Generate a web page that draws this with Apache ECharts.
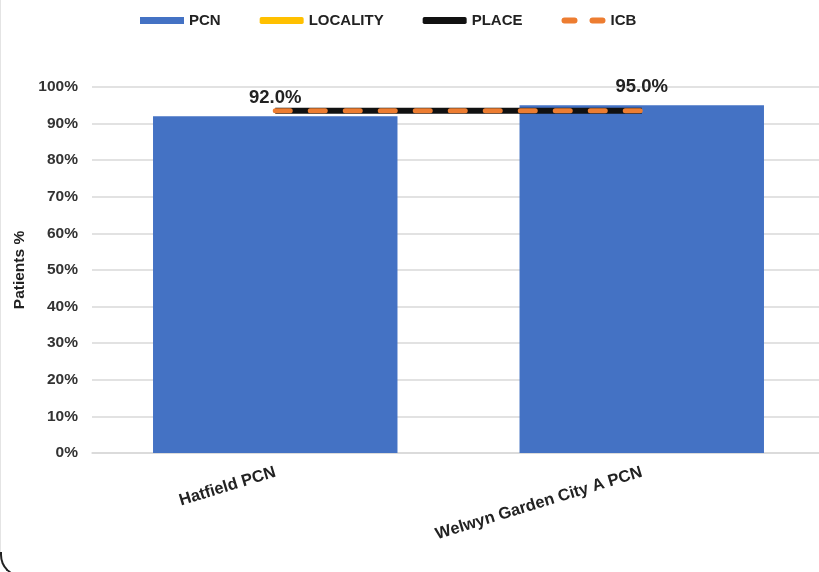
<!DOCTYPE html>
<html>
<head>
<meta charset="utf-8">
<script src="https://cdn.jsdelivr.net/npm/echarts@6/dist/echarts.min.js"></script>
<style>
  html, body { margin: 0; padding: 0; background: #fff; overflow: hidden; }
  #chart { width: 819px; height: 572px; }
  .edge { position: absolute; left: 0; top: 0; width: 1px; height: 553px; background: #e4e4e4; }
  .corner { position: absolute; left: 0; top: 552px; width: 40px; height: 25px;
            border-left: 2px solid #222; border-bottom: 2px solid #222; border-bottom-left-radius: 22px; box-sizing: border-box; }
</style>
</head>
<body>
<div id="chart"></div>
<div class="edge"></div>
<div class="corner"></div>
<script>
// 分类
const categories = ["Hatfield PCN", "Welwyn Garden City A PCN"];
// 各系列数值 (%)
const pcnValues = [92.0, 95.0];
const localityValues = [93.5, 93.5];
const placeValues = [93.5, 93.5];
const icbValues = [93.5, 93.5];
const yTicks = [0, 10, 20, 30, 40, 50, 60, 70, 80, 90, 100];

const chart = echarts.init(document.getElementById("chart"));
const font = "Liberation Sans, Arial, sans-serif";

const option = {
  animation: false,
  textStyle: { fontFamily: font },
  legend: {
    top: 8,
    left: 135,
    itemGap: 39,
    itemWidth: 44,
    itemHeight: 7,
    textStyle: { color: "#222", fontSize: 15, fontWeight: "bold", fontFamily: font },
    data: [
      { name: "PCN", icon: "rect" },
      { name: "LOCALITY", icon: "roundRect" },
      { name: "PLACE", icon: "roundRect" },
      { name: "ICB", icon: "path://M3,0H13A3,3 0 0 1 13,6H3A3,3 0 0 1 3,0Z M31,0H41A3,3 0 0 1 41,6H31A3,3 0 0 1 31,0Z" }
    ]
  },
  grid: { left: 92, width: 733, top: 87, bottom: 119, outerBoundsMode: "none" },
  xAxis: {
    type: "category",
    data: categories,
    axisLine: { show: true, lineStyle: { color: "#d9d9d9", width: 1.5 } },
    axisTick: { show: false },
    axisLabel: {
      rotate: 17,
      margin: 19,
      color: "#222",
      fontSize: 16.5,
      fontWeight: "bold",
      fontFamily: font
    }
  },
  yAxis: {
    type: "value",
    min: yTicks[0],
    max: yTicks[yTicks.length - 1],
    interval: 10,
    name: "Patients %",
    nameLocation: "middle",
    nameGap: 64,
    nameRotate: 90,
    nameTextStyle: { color: "#222", fontSize: 15.5, fontWeight: "bold", fontFamily: font },
    axisLine: { show: false },
    axisTick: { show: false },
    axisLabel: {
      formatter: "{value}%",
      margin: 14,
      color: "#333",
      fontSize: 15.5,
      fontWeight: "bold",
      fontFamily: font
    },
    splitLine: { lineStyle: { color: "#d9d9d9", width: 1.5 } }
  },
  series: [
    {
      name: "PCN",
      type: "bar",
      barWidth: "66.7%",
      itemStyle: { color: "#4472C4" },
      label: {
        show: true,
        position: "top",
        distance: 9,
        formatter: p => p.value.toFixed(1) + "%",
        color: "#222",
        fontSize: 18.5,
        fontWeight: "bold",
        fontFamily: font
      },
      data: pcnValues
    },
    {
      name: "LOCALITY",
      type: "line",
      symbol: "none",
      itemStyle: { color: "#FFC000" },
      lineStyle: { color: "#FFC000", width: 4 },
      data: localityValues
    },
    {
      name: "PLACE",
      type: "line",
      symbol: "none",
      itemStyle: { color: "#111" },
      lineStyle: { color: "#111", width: 6 },
      data: placeValues
    },
    {
      name: "ICB",
      type: "line",
      symbol: "none",
      itemStyle: { color: "#ED7D31" },
      lineStyle: { color: "#ED7D31", width: 5, type: [15, 20], cap: "round" },
      data: icbValues
    }
  ]
};

chart.setOption(option);
</script>
</body>
</html>
